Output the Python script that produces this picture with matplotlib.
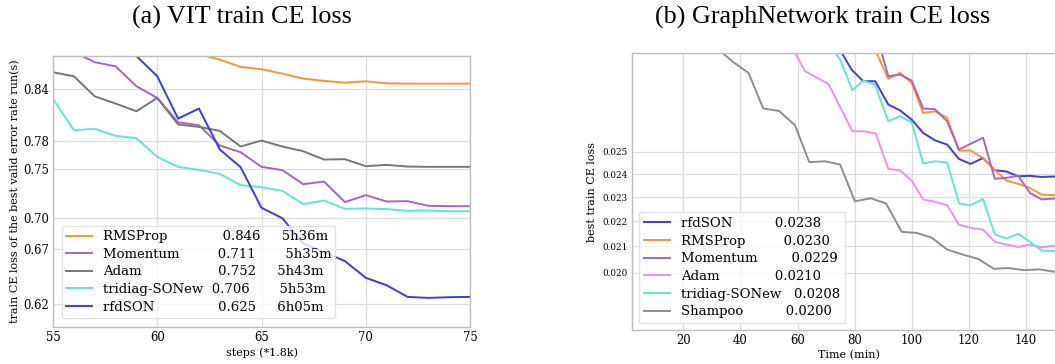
import matplotlib
matplotlib.use("Agg")
import matplotlib.pyplot as plt
from matplotlib.ticker import FixedLocator, FixedFormatter, NullLocator

# ---------------- (a) VIT ----------------
vit_steps = list(range(55, 76))
vit_rmsprop = [0.96, 0.94, 0.925, 0.912, 0.90, 0.893, 0.887, 0.882, 0.8755, 0.8665, 0.8637,
               0.8584, 0.8523, 0.8496, 0.8475, 0.8491, 0.8467, 0.8463, 0.8463, 0.8463, 0.8463]
vit_momentum = [0.90, 0.885, 0.8723, 0.8673, 0.8432, 0.8294, 0.8014, 0.7980, 0.7754, 0.7681, 0.7524,
                0.7489, 0.7342, 0.7369, 0.7158, 0.7229, 0.7164, 0.7168, 0.7121, 0.7117, 0.7117]
vit_adam = [0.8600, 0.8552, 0.8313, 0.8228, 0.8139, 0.8294, 0.7988, 0.7961, 0.7916, 0.7743, 0.7809,
            0.7743, 0.7692, 0.7602, 0.7606, 0.7531, 0.7545, 0.7527, 0.7524, 0.7524, 0.7524]
vit_tridiag = [0.8282, 0.7924, 0.7940, 0.7861, 0.7835, 0.7631, 0.7524, 0.7492, 0.7450, 0.7332, 0.7311,
               0.7273, 0.7138, 0.7174, 0.7091, 0.7094, 0.7088, 0.7071, 0.7074, 0.7067, 0.7067]
vit_rfdson = [1.0, 0.97, 0.94, 0.91, 0.88, 0.8552, 0.8055, 0.8170, 0.7711, 0.7520, 0.7101,
              0.6997, 0.6751, 0.6670, 0.6586, 0.6432, 0.6365, 0.6261, 0.6252, 0.6258, 0.6261]
vit_yticks = [0.62, 0.67, 0.70, 0.75, 0.78, 0.84]
vit_xticks = [55, 60, 65, 70, 75]
vit_labels = ["RMSProp             0.846     5h36m",
              "Momentum         0.711       5h35m",
              "Adam                  0.752     5h43m",
              "tridiag-SONew  0.706       5h53m",
              "rfdSON               0.625     6h05m"]

# ---------------- (b) GraphNetwork ----------------
g_rfd_t = [66.6, 70.7, 74.8, 78.9, 83.0, 87.2, 91.8, 95.9, 100.0, 104.0, 108.1, 112.4, 116.5, 120.6,
           125.0, 129.1, 133.2, 137.3, 141.4, 145.5, 150.1]
g_rfd = [0.034, 0.032, 0.0302, 0.0291, 0.02848, 0.02848, 0.02728, 0.02699, 0.02653, 0.02589, 0.02554,
         0.02534, 0.02468, 0.02445, 0.02472, 0.02417, 0.02411, 0.02390, 0.02392, 0.02387, 0.02389]
g_rms_t = [79.2, 83.3, 87.4, 91.8, 95.9, 100.0, 104.0, 108.1, 112.4, 116.5, 120.6, 125.0, 129.1,
           133.2, 137.3, 141.4, 145.5, 150.1]
g_rms = [0.033, 0.0315, 0.0301, 0.02860, 0.02892, 0.02839, 0.02686, 0.02694, 0.02662, 0.02506,
         0.02506, 0.02472, 0.02417, 0.02371, 0.02357, 0.02339, 0.02311, 0.02308]
g_mom_t = [83.3, 87.4, 91.8, 95.9, 100.0, 104.0, 108.1, 112.4, 116.5, 120.6, 125.0, 129.1, 133.2,
           137.3, 141.4, 145.5, 150.1]
g_mom = [0.032, 0.0312, 0.02874, 0.02883, 0.02851, 0.02708, 0.02705, 0.02645, 0.02511, 0.02537,
         0.02566, 0.02379, 0.02383, 0.02392, 0.02318, 0.02290, 0.02294]
g_adam_t = [54.4, 58.5, 62.6, 70.8, 79.2, 83.0, 87.4, 91.8, 95.9, 100.0, 104.0, 108.1, 112.4, 116.5,
            120.6, 125.0, 129.1, 133.2, 137.3, 141.4, 145.5, 150.1]
g_adam = [0.032, 0.0302, 0.02901, 0.02834, 0.02597, 0.02597, 0.02586, 0.02423, 0.02416, 0.02371,
          0.02290, 0.02280, 0.02266, 0.02186, 0.02173, 0.02166, 0.02118, 0.02107, 0.02098, 0.02107,
          0.02096, 0.02103]
g_tri_t = [66.7, 70.8, 74.9, 79.2, 83.0, 87.1, 91.8, 95.9, 100.0, 104.0, 108.1, 112.4, 116.6, 120.6,
           125.0, 129.1, 133.2, 137.3, 141.4, 145.5, 150.1]
g_tri = [0.032, 0.0305, 0.02964, 0.02801, 0.02851, 0.02830, 0.02645, 0.02670, 0.02640, 0.02447,
         0.02457, 0.02452, 0.02273, 0.02266, 0.02292, 0.02147, 0.02131, 0.02149, 0.02118, 0.02084, 0.02082]
g_sha_t = [5.7, 11.0, 16.3, 21.6, 26.9, 32.2, 37.5, 42.8, 48.0, 53.5, 59.1, 64.1, 69.6, 74.9, 80.1,
           85.7, 91.0, 96.5, 101.7, 107.0, 112.4, 117.8, 123.3, 128.8, 133.8, 139.3, 144.7, 150.1]
g_sha = [0.05, 0.042, 0.037, 0.034, 0.032, 0.0302, 0.0295, 0.02892, 0.02708, 0.02696, 0.02626,
         0.02453, 0.02457, 0.02442, 0.02282, 0.02295, 0.02273, 0.02157, 0.02153, 0.02134, 0.02088,
         0.02069, 0.02052, 0.02015, 0.02018, 0.02010, 0.02013, 0.02004]
g_yticks = [0.020, 0.021, 0.022, 0.023, 0.024, 0.025]
g_xticks = [20, 40, 60, 80, 100, 120, 140]
g_labels = ["rfdSON          0.0238",
            "RMSProp         0.0230",
            "Momentum        0.0229",
            "Adam             0.0210",
            "tridiag-SONew   0.0208",
            "Shampoo          0.0200"]

C_BLUE = "#3a3af7"
C_ORANGE = "#ff9430"
C_PURPLE = "#a866c0"
C_GRAY = "#777777"
C_TURQ = "#5ee6d6"
C_VIOLET = "#f08ef0"
C_SHAM = "#8e8e8e"

plt.rcParams["font.family"] = "DejaVu Serif"
fig = plt.figure(figsize=(10.55, 3.64), dpi=100)

def style(ax):
    ax.set_facecolor("white")
    for s in ax.spines.values():
        s.set_color("#bdbdbd")
        s.set_linewidth(1.0)
    ax.grid(True, color="#dcdcdc", linewidth=0.9)
    ax.set_axisbelow(True)
    ax.tick_params(length=0, pad=3)

lw = 1.4
# ---- left
ax1 = fig.add_axes([53 / 1055, 37 / 364, 417 / 1055, 271 / 364])
style(ax1)
ax1.plot(vit_steps, vit_rmsprop, color=C_ORANGE, lw=lw, label=vit_labels[0])
ax1.plot(vit_steps, vit_momentum, color=C_PURPLE, lw=lw, label=vit_labels[1])
ax1.plot(vit_steps, vit_adam, color=C_GRAY, lw=lw, label=vit_labels[2])
ax1.plot(vit_steps, vit_tridiag, color=C_TURQ, lw=lw, label=vit_labels[3])
ax1.plot(vit_steps, vit_rfdson, color=C_BLUE, lw=lw, label=vit_labels[4])
ax1.set_yscale("log")
ax1.set_xlim(55, 75)
ax1.set_ylim(0.600, 0.880)
ax1.yaxis.set_major_locator(FixedLocator(vit_yticks))
ax1.yaxis.set_major_formatter(FixedFormatter(["%.2f" % v for v in vit_yticks]))
ax1.yaxis.set_minor_locator(NullLocator())
ax1.set_xticks(vit_xticks)
ax1.tick_params(axis="both", labelsize=8.4)
ax1.set_xlabel("steps (*1.8k)", fontsize=8, labelpad=2)
ax1.set_ylabel("train CE loss of the best valid error rate run(s)", fontsize=8, labelpad=2)
ax1.legend(loc="lower left", fontsize=9.5, frameon=True, framealpha=0.8, edgecolor="#dddddd",
           borderpad=0.3, labelspacing=0.35, handlelength=2.0, bbox_to_anchor=(0.005, 0.01))

# ---- right
ax2 = fig.add_axes([632 / 1055, 34 / 364, 433 / 1055, 277 / 364])
style(ax2)
ax2.plot(g_rfd_t, g_rfd, color=C_BLUE, lw=lw, label=g_labels[0])
ax2.plot(g_rms_t, g_rms, color=C_ORANGE, lw=lw, label=g_labels[1])
ax2.plot(g_mom_t, g_mom, color=C_PURPLE, lw=lw, label=g_labels[2])
ax2.plot(g_adam_t, g_adam, color=C_VIOLET, lw=lw, label=g_labels[3])
ax2.plot(g_tri_t, g_tri, color=C_TURQ, lw=lw, label=g_labels[4])
ax2.plot(g_sha_t, g_sha, color=C_SHAM, lw=lw, label=g_labels[5])
ax2.set_yscale("log")
ax2.set_xlim(2.0, 153.7)
ax2.set_ylim(0.0180, 0.0300)
ax2.yaxis.set_major_locator(FixedLocator(g_yticks))
ax2.yaxis.set_major_formatter(FixedFormatter(["%.3f" % v for v in g_yticks]))
ax2.yaxis.set_minor_locator(NullLocator())
ax2.set_xticks(g_xticks)
ax2.tick_params(axis="x", labelsize=8.4)
ax2.tick_params(axis="y", labelsize=6.3)
ax2.set_xlabel("Time (min)", fontsize=8, labelpad=2)
ax2.set_ylabel("best train CE loss", fontsize=8, labelpad=4)
ax2.legend(loc="lower left", fontsize=9.5, frameon=True, framealpha=0.8, edgecolor="#dddddd",
           borderpad=0.4, labelspacing=0.35, handlelength=2.0, bbox_to_anchor=(0.0, 0.0))

fig.text(241.5 / 1055, 1 - 24 / 364, "(a) VIT train CE loss", ha="center", va="baseline",
         fontsize=18.8, family="Liberation Serif")
fig.text(822.7 / 1055, 1 - 24 / 364, "(b) GraphNetwork train CE loss", ha="center", va="baseline",
         fontsize=18.8, family="Liberation Serif")

fig.savefig("out.png", dpi=100)
